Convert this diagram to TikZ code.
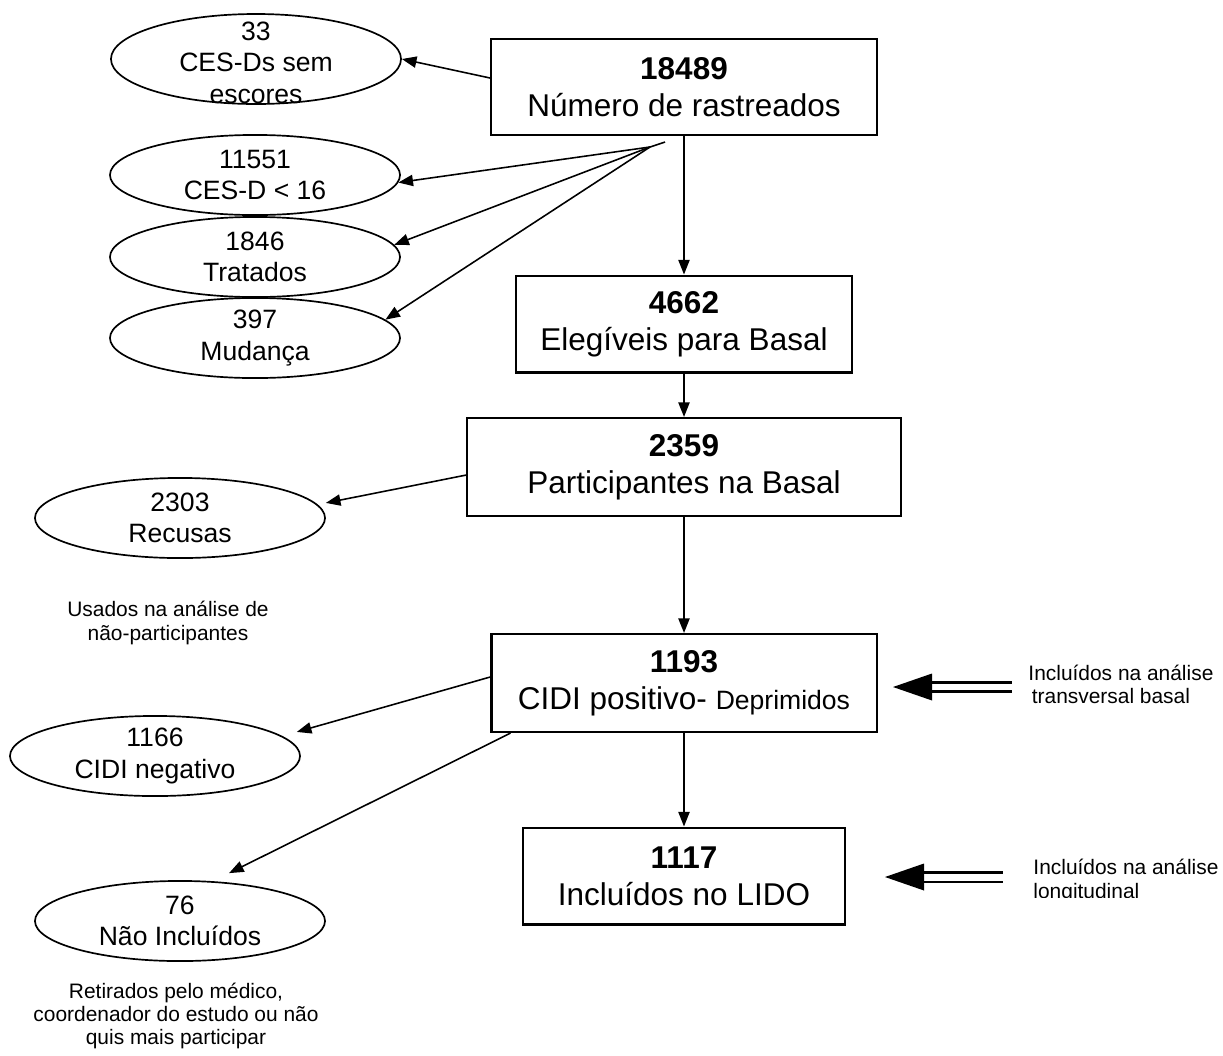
\documentclass[tikz,border=0pt]{standalone}
\usepackage{fontspec}
\setmainfont{Liberation Sans}
\usetikzlibrary{arrows.meta,positioning,shapes.geometric}

\tikzset{
  caixa/.style={draw, line width=0.9pt, align=center, inner sep=0pt,
    font=\fontsize{14}{16.4}\selectfont},
  elipse/.style={draw, ellipse, line width=0.75pt, inner sep=0pt,
    minimum width=128.9pt, minimum height=35.6pt},
  rotulo/.style={align=center, inner sep=0pt, font=\fontsize{11.8}{14}\selectfont},
  nota/.style={align=center, inner sep=0pt, font=\fontsize{9.3}{10.3}\selectfont},
  seta/.style={-{Triangle[length=6.5pt,width=5pt]}, line width=0.7pt},
  dupla/.style={double, double distance=3.1pt, line width=1.33pt},
}

\begin{document}
\begin{tikzpicture}[x=0.4444pt,y=-0.4444pt]
\useasboundingbox (0,0) rectangle (1223,1055);
% caixas do fluxo principal
\node[caixa, minimum width=171.5pt, minimum height=42.7pt] (rast) at (684,87) {\textbf{18489}\\Número de rastreados};
\node[caixa, minimum width=149.3pt, minimum height=43.1pt] (eleg) at (684,324) {\textbf{4662}\\Elegíveis para Basal};
\node[caixa, minimum width=192.9pt, minimum height=43.6pt] (part) at (684,467) {\textbf{2359}\\Participantes na Basal};
\node[caixa, minimum width=171.1pt, minimum height=43.6pt] (cidi) at (684,683) {\textbf{1193}\\CIDI positivo- {\fontsize{11.8}{14}\selectfont Deprimidos}};
\node[caixa, minimum width=143.1pt, minimum height=43.1pt] (lido) at (684,876) {\textbf{1117}\\Incluídos no LIDO};
% elipses das exclusoes
\node[elipse, minimum height=40pt,
  label={[rotulo, yshift=-1.5pt]center:33\\CES-Ds sem\\escores}] (e33) at (256,59) {};
\foreach \n/\x/\y/\txt in {e11551/255/175/{11551\\CES-D < 16},
    e1846/255/257/{1846\\Tratados}, e397/255/338/{397\\Mudança},
    erec/180/518/{2303\\Recusas}, eneg/155/756/{1166\\CIDI negativo},
    enao/180/921/{76\\Não Incluídos}}
  \node[elipse, label={[rotulo]center:\txt}] (\n) at (\x,\y) {};
% notas
\node[nota] (usados) at (168,623) {Usados na análise de\\não-participantes};
\node[nota] (retirados) at (176,1016) {Retirados pelo médico,\\coordenador do estudo ou não\\quis mais participar};
\node[nota, align=left, anchor=west] (inclA) at (1028,684) {Incluídos na análise\\\hspace*{1.5pt}transversal basal};
\begin{scope}
  \clip (1000,840) rectangle (1223,897);
  \node[nota, align=left, anchor=west] (inclB) at (1033,881) {Incluídos na análise\\longitudinal};
\end{scope}
% setas
\draw[seta] ([yshift=4pt]rast.west) -- (e33.east);
\coordinate (leque) at (650,147);
\coordinate (lequeb) at (665,142);
\draw[line width=0.7pt] (lequeb) -- (leque);
\foreach \e/\a in {e11551/357, e1846/5, e397/8}
  \draw[seta] (leque) -- (\e.\a);
\draw[seta] (rast) -- (eleg);
\draw[seta] (eleg) -- (part);
\draw[seta] (part) -- (cidi);
\draw[seta] (cidi) -- (lido);
\draw[seta] ([yshift=-3.6pt]part.west) -- ([yshift=6.7pt]erec.east);
\draw[seta] ([yshift=2.7pt]cidi.west) -- ([xshift=-1.8pt,yshift=10.7pt]eneg.east);
\draw[seta] ([xshift=8.9pt]cidi.south west) -- ([xshift=21.8pt,yshift=3.1pt]enao.north);
% setas duplas
\coordinate (pontaA) at (893,687);
\coordinate (fimA) at (1012,687);
\coordinate (pontaB) at (885,877);
\coordinate (fimB) at (1003,877);
\foreach \p/\f in {pontaA/fimA, pontaB/fimB}{
  \draw[dupla] ([xshift=16pt]\p) -- (\f);
  \fill (\p) -- ++(39,-13.5) -- ++(0,27) -- cycle;
}
\end{tikzpicture}
\end{document}
